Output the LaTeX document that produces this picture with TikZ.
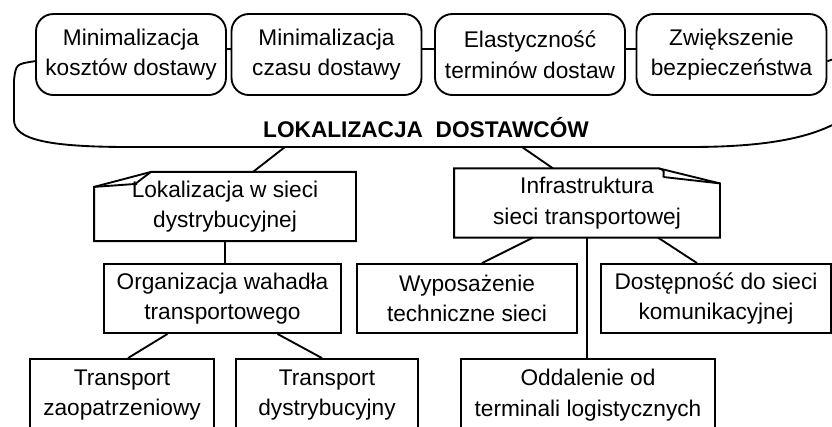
\documentclass[tikz,border=0pt]{standalone}
\usepackage{fontspec}
\setmainfont{Liberation Sans}
\usetikzlibrary{calc}

\begin{document}
\begin{tikzpicture}[x=0.75pt, y=-0.75pt, line width=1.4pt,
every node/.style={font=\fontsize{17}{23}\selectfont},
goal node/.style={draw,rounded corners=13pt,minimum width=142.5pt,minimum height=60.75pt,inner sep=0pt,align=center},
box node/.style={draw,minimum height=51.75pt,inner sep=0pt,align=center},
fold node/.style={minimum height=50.5pt,inner sep=0pt,align=center}]
\useasboundingbox (0,0) rectangle (832,426);
\clip (0,0) rectangle (832,426);
\begin{scope}
\node[goal node] (koszt) at (131,54.5) {Minimalizacja\\kosztów dostawy};
\node[goal node] (czas) at (326.5,54.5) {Minimalizacja\\czasu dostawy};
\node[goal node] (termin) at (530,54.5) {Elastyczność\\terminów dostaw};
\node[goal node] (bezp) at (731.5,54.5) {Zwiększenie\\bezpieczeństwa};
\node[font=\fontsize{17}{23}\selectfont\bfseries] (lok) at (426,128) {LOKALIZACJA\ \ DOSTAWCÓW};
\coordinate (lokl) at (285,147);
\coordinate (lokr) at (522,147);
%\node[goal node] () at (,) {};
\end{scope}
\begin{scope}
\node[fold node, minimum width=195pt] (siec) at (225,206.5) {Lokalizacja w sieci\\dystrybucyjnej};
\node[fold node, minimum width=198pt] (infra) at (587,203) {Infrastruktura\\sieci transportowej};
\node[box node, minimum width=177.75pt] (wahadlo) at (222.5,298.5) {Organizacja wahadła\\transportowego};
\node[box node, minimum width=165pt] (wypos) at (467,298.5) {Wyposażenie\\techniczne sieci};
\node[box node, minimum width=172.5pt] (dostep) at (716,298.5) {Dostępność do sieci\\komunikacyjnej};
\node[box node, minimum width=138pt, minimum height=54pt] (zaopat) at (122,395) {Transport\\zaopatrzeniowy};
\node[box node, minimum width=136.5pt, minimum height=54pt] (dystryb) at (327,395) {Transport\\dystrybucyjny};
\node[box node, minimum width=190.5pt, minimum height=54pt] (oddal) at (588,395) {Oddalenie od\\terminali logistycznych};
\end{scope}
% outline round the goals
\draw ([yshift=-5pt]koszt.west) .. controls (16,64) .. (14,80) -- (14,120) .. controls (14,140) and (50,147) .. (130,147) -- (690,147) .. controls (770,147) and (815,137) .. (845,118);
\draw ([yshift=-5pt]bezp.east) .. controls (830,60) .. (845,57);
% folded boxes
\draw ($(siec.north west)+(0,15)$) -- ($(siec.north west)+(57,0)$) -- (siec.north east) -- (siec.south east) -- (siec.south west) -- cycle;
\draw ($(siec.north west)+(57,0)$) .. controls ($(siec.north west)+(46,8)$) and ($(siec.north west)+(40,13)$) .. ($(siec.north west)+(42,12)$) -- ($(siec.north west)+(0,15)$);
\draw (infra.north west) -- ($(infra.north east)+(-61,0)$) -- ($(infra.north east)+(0,15)$) -- (infra.south east) -- (infra.south west) -- cycle;
\draw ($(infra.north east)+(-61,0)$) .. controls ($(infra.north east)+(-50,3)$) and ($(infra.north east)+(-62,9)$) .. ($(infra.north east)+(-53,9)$) -- ($(infra.north east)+(0,15)$);
\begin{scope}
\draw ([yshift=4pt]koszt.east) -- ([yshift=4pt]czas.west);
\draw ([yshift=4pt]czas.east) -- ([yshift=4pt]termin.west);
\draw ([yshift=4pt]termin.east) -- ([yshift=4pt]bezp.west);
\draw (lokl) -- ($(siec.north)+(28,0)$);
\draw (lokr) -- ($(infra.north)+(-34,0)$);
\draw (siec.south) -- (siec.south |- wahadlo.north);
\draw ($(wahadlo.south)+(-55,0)$) -- ($(zaopat.north)+(6,0)$);
\draw ($(wahadlo.south)+(55,0)$) -- ($(dystryb.north)+(-5,0)$);
\draw ($(infra.south)+(-54,0)$) -- ($(wypos.north)+(15,0)$);
\draw ($(infra.south)+(71,0)$) -- ($(dostep.north)+(-19,0)$);
\draw (infra.south) -- (infra.south |- oddal.north);
%\draw () -- ();
\end{scope}
\end{tikzpicture}
\end{document}
